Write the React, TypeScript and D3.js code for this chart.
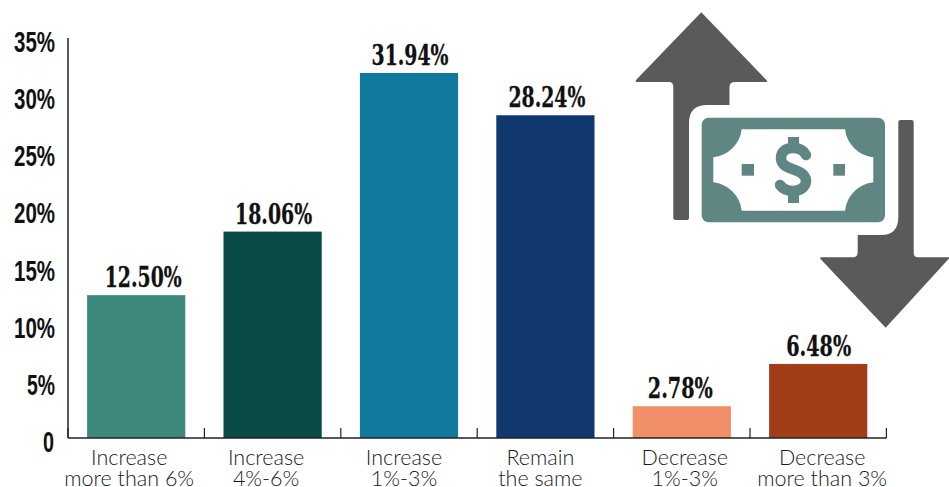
import React from "react";
import * as d3 from "d3";

const categories = [
  ["Increase", "more than 6%"],
  ["Increase", "4%-6%"],
  ["Increase", "1%-3%"],
  ["Remain", "the same"],
  ["Decrease", "1%-3%"],
  ["Decrease", "more than 3%"],
];
const values = [12.5, 18.06, 31.94, 28.24, 2.78, 6.48];
const colors = ["#3D8A7C", "#0A4A46", "#11789E", "#11376F", "#F18F68", "#A23D18"];
const yTicks = [0, 5, 10, 15, 20, 25, 30, 35];
const catShift = [-7, -6.5, -5, -5, 3, 4];
const labelShift = [7, 1, 1, 1.5, -1.5, 0.5];

const W = 949, H = 487;
const x = d3.scaleBand<number>().domain(d3.range(6)).range([68, 886.4]).paddingInner(0.28).paddingOuter(0.14);
const y = d3.scaleLinear().domain([0, 35]).range([438, 38]);
const bandStep = x.step();

const catFont = "Lato, sans-serif";
const tickFont = "'Liberation Sans', sans-serif";
const labelFont = "'DejaVu Serif', serif";

export default function App() {
  return (
    <svg width={W} height={H} style={{ position: "fixed", left: 0, top: 0, background: "#fff" }}>
      {values.map((v, i) => (
        <rect key={i} x={x(i)} y={y(v)} width={x.bandwidth()} height={y(0) - y(v)} fill={colors[i]} />
      ))}
      <line x1={68} x2={68} y1={38} y2={438} stroke="#333" strokeWidth={1.6} />
      <line x1={68} x2={886.4} y1={438} y2={438} stroke="#222" strokeWidth={1.4} />
      {d3.range(0, 7).map((i) => (
        <line key={i} x1={68 + i * bandStep} x2={68 + i * bandStep} y1={428} y2={438} stroke="#222" strokeWidth={1.2} />
      ))}
      {yTicks.map((t) => (
        <text key={t} x={t === 0 ? 54 : 55} y={y(t) + 14} textAnchor="end" fontFamily={tickFont} fontWeight={700} fontSize={29} fill="#111"
          textLength={t === 0 ? 11 : t === 5 ? 28 : 41} lengthAdjust="spacingAndGlyphs"
          >{t === 0 ? "0" : `${t}%`}</text>
      ))}
      {values.map((v, i) => (
        <text key={i} x={x(i)! + x.bandwidth() / 2 + labelShift[i]} y={y(v) - 8} textAnchor="middle" fontFamily={labelFont} fontWeight={700} fontSize={27} fill="#111"
          textLength={v < 10 ? 65 : 77} lengthAdjust="spacingAndGlyphs" stroke="#111" strokeWidth={0.3}>
          {v.toFixed(2)}%
        </text>
      ))}
      {categories.map((c, i) => (
        <text key={i} textAnchor="middle" fontFamily={catFont} fontWeight={300} fontSize={21.5} fill="#1a1a1a">
          <tspan x={x(i)! + x.bandwidth() / 2 + catShift[i]} y={464.5}>{c[0]}</tspan>
          <tspan x={x(i)! + x.bandwidth() / 2 + catShift[i]} y={486}>{c[1]}</tspan>
        </text>
      ))}
      {/* Icon */}
      <g fill="#5A5A5A">
        <path d="M701.3 12.3 L767.3 81 Q767.5 82 766 82 L735 82 Q729.5 82 729.5 87 L729.5 105 L707 105 Q689 105 689 123 L689 218 Q689 220 687 220 L675.5 220 Q673.3 220 673.3 218 L673.3 87 Q673.3 82 669 82 L637 82 Q635 82 636 80 Z" />
        <path d="M885.7 327.7 L949 258.5 L949 257.3 L918 257.3 Q913.7 257.3 913.7 253 L913.7 122 Q913.7 120 911.5 120 L900.5 120 Q898.3 120 898.3 122 L898.3 217 Q898.3 235 881 235 L857.7 235 L857.7 252 Q857.7 257.3 853 257.3 L821 257.3 Q819.5 257.3 820.5 259 Z" />
      </g>
      <rect x={701.7} y={117.7} width={183.3} height={104.6} rx={7} fill="#5F8683" />
      <path fill="#fff" d="M741.7 129.3 L845 129.3 A32 32 0 0 0 873.3 157.3 L873.3 182.3 A32 32 0 0 0 845 210.7 L741.7 210.7 A32 32 0 0 0 713.3 182.3 L713.3 157.3 A32 32 0 0 0 741.7 129.3 Z" />
      <rect x={741.7} y={164} width={12.3} height={11.7} fill="#5F8683" />
      <rect x={833.3} y={164} width={11.7} height={11.7} fill="#5F8683" />
      <g fill="none" stroke="#5F8683" strokeLinecap="round" strokeLinejoin="round">
        <path strokeWidth={10.5} d="M806 155 C803 149 798 148 793 148 C784 148 781 153 781 158 C781 165 787 167 793.5 169.5 C801 172 806 175 806 181 C806 187 800 191 793 191 C787 191 783 189 780 185" />
        <path strokeWidth={11} strokeLinecap="butt" d="M793.5 137 L793.5 146 M793.5 193 L793.5 203" />
      </g>
    </svg>
  );
}
